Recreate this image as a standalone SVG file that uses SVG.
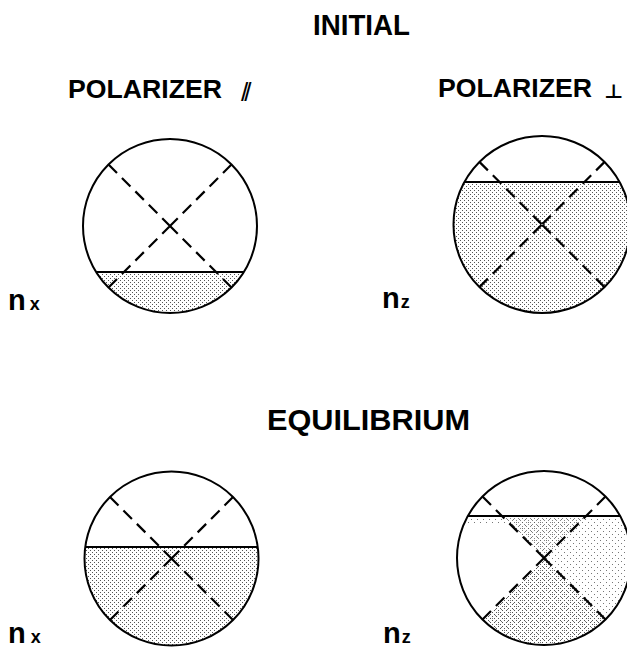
<svg xmlns="http://www.w3.org/2000/svg" width="627" height="650" viewBox="0 0 627 650">
<style>
.ttl{font-family:"Liberation Sans",Arial,sans-serif;font-weight:bold;fill:#000}
.sym{font-family:"Liberation Sans",Arial,sans-serif;font-weight:normal;fill:#000}
.lbl{font-family:"Liberation Sans",Arial,sans-serif;font-weight:bold;fill:#000}
.ring{fill:none;stroke:#000;stroke-width:2}
.chord{stroke:#000;stroke-width:1.8;fill:none}
.dash{stroke:#000;stroke-width:2.2;stroke-dasharray:12 7;fill:none}
</style>
<defs>
<pattern id="dots" width="4" height="4" patternUnits="userSpaceOnUse">
<rect x="0" y="0" width="1" height="1" fill="#555"/>
<rect x="2" y="2" width="1" height="1" fill="#555"/>
</pattern>
<pattern id="dotsLight" width="6" height="6" patternUnits="userSpaceOnUse">
<rect x="0" y="0" width="1" height="1" fill="#777"/>
<rect x="3" y="3" width="1" height="1" fill="#777"/>
</pattern>
<clipPath id="c1"><circle cx="170" cy="226" r="87"/></clipPath>
<clipPath id="c2"><circle cx="542" cy="224.5" r="88.5"/></clipPath>
<clipPath id="c3"><circle cx="171.5" cy="558.5" r="87"/></clipPath>
<clipPath id="c4"><circle cx="544" cy="558" r="87"/></clipPath>
</defs>
<rect width="627" height="650" fill="#fff"/>

<g id="titles">
<text class="ttl" x="313" y="35" font-size="30" textLength="97" lengthAdjust="spacingAndGlyphs">INITIAL</text>
<text class="ttl" x="267" y="430" font-size="30" textLength="203" lengthAdjust="spacingAndGlyphs">EQUILIBRIUM</text>
<text class="ttl" x="68" y="98" font-size="26" textLength="154" lengthAdjust="spacingAndGlyphs">POLARIZER</text>
<text class="sym" x="241" y="101" font-size="26" letter-spacing="-4">//</text>
<text class="ttl" x="438" y="97" font-size="26" textLength="154" lengthAdjust="spacingAndGlyphs">POLARIZER</text>
<text class="ttl" x="604" y="98" font-size="19" style="font-family:'DejaVu Sans',sans-serif" textLength="19" lengthAdjust="spacingAndGlyphs">⊥</text>
</g>

<g id="node-initial-x">
<rect x="80" y="272" width="180" height="50" fill="url(#dots)" clip-path="url(#c1)"/>
<circle class="ring" cx="170" cy="226" r="87"/>
<line class="chord" x1="96.2" y1="272" x2="243.8" y2="272"/>
<path class="dash" d="M108.5,164.5 L170,226 M231.5,287.5 L170,226 M231.5,164.5 L170,226 M108.5,287.5 L170,226"/>
<text class="lbl" x="8" y="310" font-size="29">n<tspan font-size="18" dx="4">x</tspan></text>
</g>

<g id="node-initial-z">
<rect x="450" y="182" width="190" height="140" fill="url(#dots)" clip-path="url(#c2)"/>
<circle class="ring" cx="542" cy="224.5" r="88.5"/>
<line class="chord" x1="464.4" y1="182" x2="619.6" y2="182"/>
<path class="dash" d="M479.4,161.9 L542,224.5 M604.6,287.1 L542,224.5 M604.6,161.9 L542,224.5 M479.4,287.1 L542,224.5"/>
<text class="lbl" x="382" y="308" font-size="29">n<tspan font-size="18" dx="1">z</tspan></text>
</g>

<g id="node-equilibrium-x">
<rect x="80" y="547" width="190" height="110" fill="url(#dots)" clip-path="url(#c3)"/>
<circle class="ring" cx="171.5" cy="558.5" r="87"/>
<line class="chord" x1="85.3" y1="547" x2="257.7" y2="547"/>
<path class="dash" d="M110,497 L171.5,558.5 M233,620 L171.5,558.5 M233,497 L171.5,558.5 M110,620 L171.5,558.5"/>
<text class="lbl" x="8" y="643" font-size="29">n<tspan font-size="18" dx="5">x</tspan></text>
</g>

<g id="node-equilibrium-z">
<g clip-path="url(#c4)">
<rect x="450" y="516" width="190" height="140" fill="url(#dotsLight)"/>
<polygon points="544,558 510,524 440,524 440,647 455,647" fill="#fff"/>
<polygon points="544,558 455,647 633,647" fill="url(#dots)"/>
<polygon points="544,558 502,516 586,516" fill="url(#dots)" opacity="0.7"/>
</g>
<circle class="ring" cx="544" cy="558" r="87"/>
<line class="chord" x1="467.8" y1="516" x2="620.2" y2="516"/>
<path class="dash" d="M482.5,496.5 L544,558 M605.5,619.5 L544,558 M605.5,496.5 L544,558 M482.5,619.5 L544,558"/>
<text class="lbl" x="383" y="643" font-size="29">n<tspan font-size="18" dx="1">z</tspan></text>
</g>
</svg>
